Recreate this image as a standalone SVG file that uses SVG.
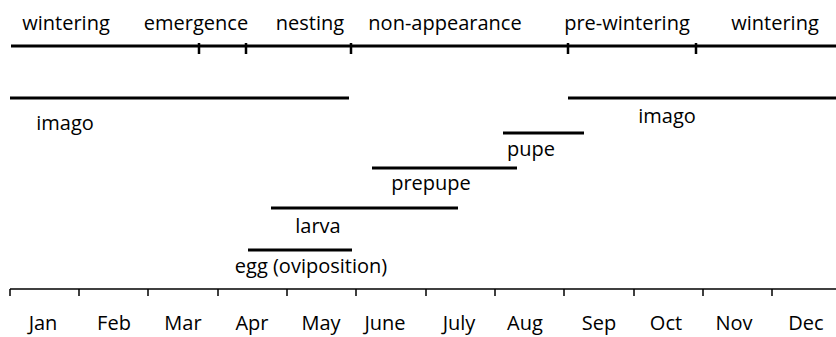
<svg xmlns="http://www.w3.org/2000/svg" width="836" height="337" viewBox="0 0 836 337">
<style>
text{font-family:"Open Sans","Liberation Sans",sans-serif;font-size:20px;fill:#000;text-anchor:middle}
.bar{stroke:#000;stroke-width:3;fill:none}
.tick{stroke:#000;stroke-width:2.5;fill:none}
.axis{stroke:#000;stroke-width:1.5;fill:none}
</style>
<rect width="836" height="337" fill="#fff"/>
<g id="phases">
<line class="bar" x1="11" y1="46" x2="836" y2="46"/>
<path class="tick" d="M199,43V54M246,43V54M351,43V54M568,43V54M696,43V54"/>
<text x="66" y="30">wintering</text>
<text x="196" y="30">emergence</text>
<text x="310" y="30">nesting</text>
<text x="445" y="30">non-appearance</text>
<text x="627" y="30">pre-wintering</text>
<text x="775" y="30">wintering</text>
</g>
<g id="imago1">
<line class="bar" x1="10" y1="98" x2="349" y2="98"/>
<text x="65" y="130">imago</text>
</g>
<g id="imago2">
<line class="bar" x1="568" y1="98" x2="836" y2="98"/>
<text x="667" y="123">imago</text>
</g>
<g id="pupe">
<line class="bar" x1="503" y1="133" x2="584" y2="133"/>
<text x="531" y="156">pupe</text>
</g>
<g id="prepupe">
<line class="bar" x1="372" y1="168" x2="517" y2="168"/>
<text x="431" y="190">prepupe</text>
</g>
<g id="larva">
<line class="bar" x1="271" y1="208" x2="458" y2="208"/>
<text x="318" y="233">larva</text>
</g>
<g id="egg">
<line class="bar" x1="248" y1="250" x2="352" y2="250"/>
<text x="311" y="273">egg (oviposition)</text>
</g>
<g id="axis">
<line class="axis" x1="10" y1="289" x2="836" y2="289"/>
<path class="axis" d="M10,289V296M79,289V296M148,289V296M218,289V296M287,289V296M356,289V296M426,289V296M495,289V296M564,289V296M634,289V296M703,289V296M772,289V296"/>
<text x="43" y="330">Jan</text>
<text x="114" y="330">Feb</text>
<text x="183" y="330">Mar</text>
<text x="252" y="330">Apr</text>
<text x="321" y="330">May</text>
<text x="385" y="330">June</text>
<text x="459" y="330">July</text>
<text x="525" y="330">Aug</text>
<text x="599" y="330">Sep</text>
<text x="666" y="330">Oct</text>
<text x="734" y="330">Nov</text>
<text x="806" y="330">Dec</text>
</g>
</svg>
